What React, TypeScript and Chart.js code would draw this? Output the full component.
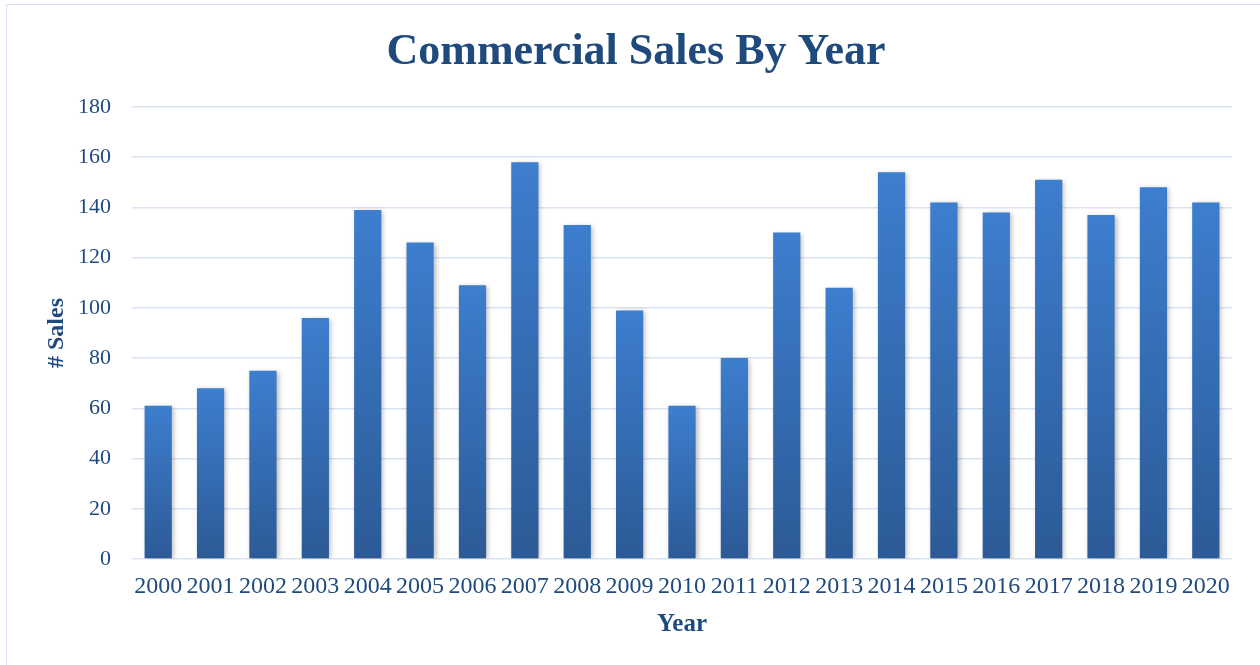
import React, { useEffect, useRef } from "react";
import { Chart, registerables } from "chart.js";

Chart.register(...registerables);

const years = ["2000","2001","2002","2003","2004","2005","2006","2007","2008","2009","2010","2011","2012","2013","2014","2015","2016","2017","2018","2019","2020"];
const sales = [61, 68, 75, 96, 139, 126, 109, 158, 133, 99, 61, 80, 130, 108, 154, 142, 138, 151, 137, 148, 142];
const yMin = 0;
const yMax = 180;
const yStep = 20;

const FONT = '"Liberation Serif", "Times New Roman", serif';
const TEXT = "#1F4A7E";
const GRID = "#D9E3F1";

const shadowPlugin = {
  id: "barShadow",
  beforeDatasetsDraw(chart: any) {
    const ctx = chart.ctx;
    ctx.save();
    ctx.shadowColor = "rgba(0,0,0,0.28)";
    ctx.shadowBlur = 5;
    ctx.shadowOffsetX = 2;
    ctx.shadowOffsetY = 1;
  },
  afterDatasetsDraw(chart: any) {
    chart.ctx.restore();
  },
};

export default function App() {
  const ref = useRef<HTMLCanvasElement | null>(null);

  useEffect(() => {
    if (!ref.current) return;
    const chart = new Chart(ref.current, {
      type: "bar",
      data: {
        labels: years,
        datasets: [
          {
            label: "# Sales",
            data: sales,
            backgroundColor: (c: any) => {
              const ch = c.chart;
              const y = ch.scales && ch.scales.y;
              if (!y || c.raw == null) return "#3570B8";
              const top = y.getPixelForValue(c.raw);
              const bottom = y.getPixelForValue(0);
              if (!isFinite(top) || !isFinite(bottom) || top === bottom) return "#3570B8";
              const g = ch.ctx.createLinearGradient(0, top, 0, bottom);
              g.addColorStop(0, "#3D7ECE");
              g.addColorStop(1, "#2C5A96");
              return g;
            },
            borderWidth: 0,
            barPercentage: 0.52,
            categoryPercentage: 1,
          },
        ],
      },
      options: {
        responsive: false,
        animation: false,
        devicePixelRatio: 1,
        layout: { padding: { left: 40, right: 28, top: 0, bottom: 0 } },
        plugins: {
          legend: { display: false },
          tooltip: { enabled: false },
          title: {
            display: true,
            text: "Commercial Sales By Year",
            color: TEXT,
            font: { family: FONT, size: 44, weight: "bold", lineHeight: 1.2 },
            padding: { top: 26.6, bottom: 27.6 },
          },
        },
        scales: {
          x: {
            grid: { display: false, drawTicks: false },
            border: { display: false },
            ticks: {
              color: TEXT,
              font: { family: FONT, size: 24 },
              padding: 13.6,
              maxRotation: 0,
              autoSkip: false,
            },
            title: {
              display: true,
              text: "Year",
              color: TEXT,
              font: { family: FONT, size: 25, weight: "bold", lineHeight: 1.2 },
              padding: { top: 0, bottom: 25 },
            },
            afterFit: (s: any) => {
              s.height = 106;
            },
          },
          y: {
            min: yMin,
            max: yMax,
            grid: { color: GRID, lineWidth: 1.6, drawTicks: false },
            border: { display: false },
            ticks: {
              stepSize: yStep,
              color: TEXT,
              font: { family: FONT, size: 22 },
              padding: 21,
            },
            title: {
              display: true,
              text: "# Sales",
              color: TEXT,
              font: { family: FONT, size: 24, weight: "bold", lineHeight: 1.2 },
              padding: { top: 2.6, bottom: 0 },
            },
            afterFit: (s: any) => {
              s.width = 92;
            },
          },
        },
      },
      plugins: [shadowPlugin],
    });
    return () => chart.destroy();
  }, []);

  return (
    <div style={{ position: "fixed", left: 0, top: 0, width: 1260, height: 665, background: "#fff", overflow: "hidden" }}>
      <canvas ref={ref} width={1260} height={665} style={{ position: "absolute", left: 0, top: 0, width: 1260, height: 665 }} />
      <div
        style={{
          position: "absolute",
          left: 6,
          top: 4,
          width: 1300,
          height: 700,
          border: "1.5px solid #D5E2F3",
          pointerEvents: "none",
          boxSizing: "border-box",
        }}
      />
    </div>
  );
}
